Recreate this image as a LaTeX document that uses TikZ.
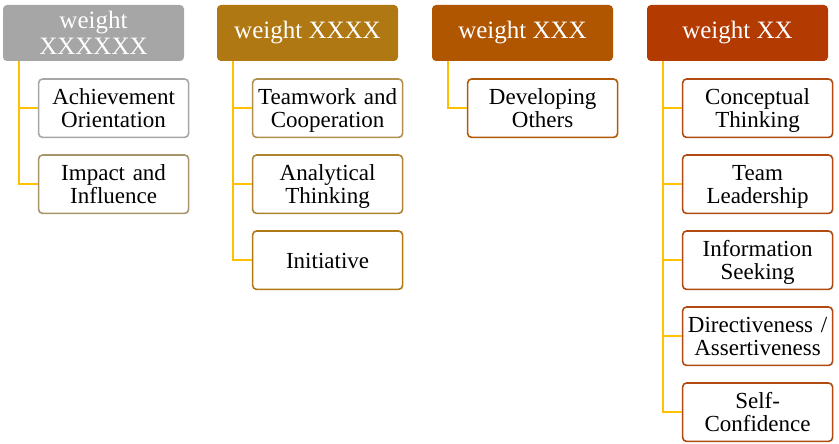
\documentclass[tikz,border=0pt]{standalone}
\usepackage{fontspec}
\setmainfont{Liberation Serif}
\usetikzlibrary{positioning}

\definecolor{hgray}{HTML}{A6A6A6}
\definecolor{hgold}{HTML}{AF7813}
\definecolor{hrust}{HTML}{B05500}
\definecolor{hred}{HTML}{B33A00}
\definecolor{btan}{HTML}{A8956A}
\definecolor{bsand}{HTML}{B0904A}
\definecolor{bochre}{HTML}{AF8430}
\definecolor{bamber}{HTML}{AF7A14}
\definecolor{bcopper}{HTML}{B05A05}
\definecolor{bbrick}{HTML}{B04A10}
\definecolor{linkyellow}{HTML}{FFC000}

\begin{document}
\begin{tikzpicture}[
    x=1pt, y=-1pt,
    node distance=16pt,
    head/.style={fill=#1, text=white, minimum width=181pt, minimum height=56pt, rounded corners=4pt, align=center, inner sep=2pt, font=\fontsize{25}{25.5}\selectfont},
    item/.style={draw=#1, line width=1.6pt, fill=white, text width=148pt, inner xsep=1pt, minimum height=58.4pt, rounded corners=4pt, align=center, font=\fontsize{23}{23}\selectfont,
        execute at begin node={\rule{0pt}{21pt}}, execute at end node={\rule[-5pt]{0pt}{5pt}}},
    first/.style={below=17pt of #1.south west, anchor=north west, xshift=35pt},
    link/.style={draw=linkyellow, line width=1.5pt}
]
    \useasboundingbox (0,0) rectangle (839,444);

    % headers
    \node (w6) [head=hgray] at (93.5,33) {weight\\XXXXXX};
    \node (w4) [head=hgold] at (307.5,33) {weight XXXX};
    \node (w3) [head=hrust] at (522.5,33) {weight XXX};
    \node (w2) [head=hred] at (737.5,33) {weight XX};

    % competencies
    \node (ach) [item=hgray, first=w6] {Achievement\\Orientation};
    \node (imp) [item=btan, below=of ach] {Impact and\\Influence};

    \node (tea) [item=bsand, first=w4] {Teamwork and\\Cooperation};
    \node (ana) [item=bochre, below=of tea] {Analytical\\Thinking};
    \node (ini) [item=bamber, below=of ana] {Initiative};

    \node (dev) [item=bcopper, first=w3] {Developing\\Others};

    \node (con) [item=bbrick, first=w2] {Conceptual\\Thinking};
    \node (lea) [item=bbrick, below=of con] {Team\\Leadership};
    \node (inf) [item=bbrick, below=of lea] {Information\\Seeking};
    \node (dir) [item=bbrick, below=of inf] {Directiveness /\\Assertiveness};
    \node (slf) [item=bbrick, below=of dir] {Self-\\Confidence};

    % connectors
    \foreach \h/\c in {w6/ach, w6/imp, w4/tea, w4/ana, w4/ini, w3/dev,
                       w2/con, w2/lea, w2/inf, w2/dir, w2/slf}
        \draw [link] ([xshift=16pt]\h.south west) |- (\c.west);
\end{tikzpicture}
\end{document}
